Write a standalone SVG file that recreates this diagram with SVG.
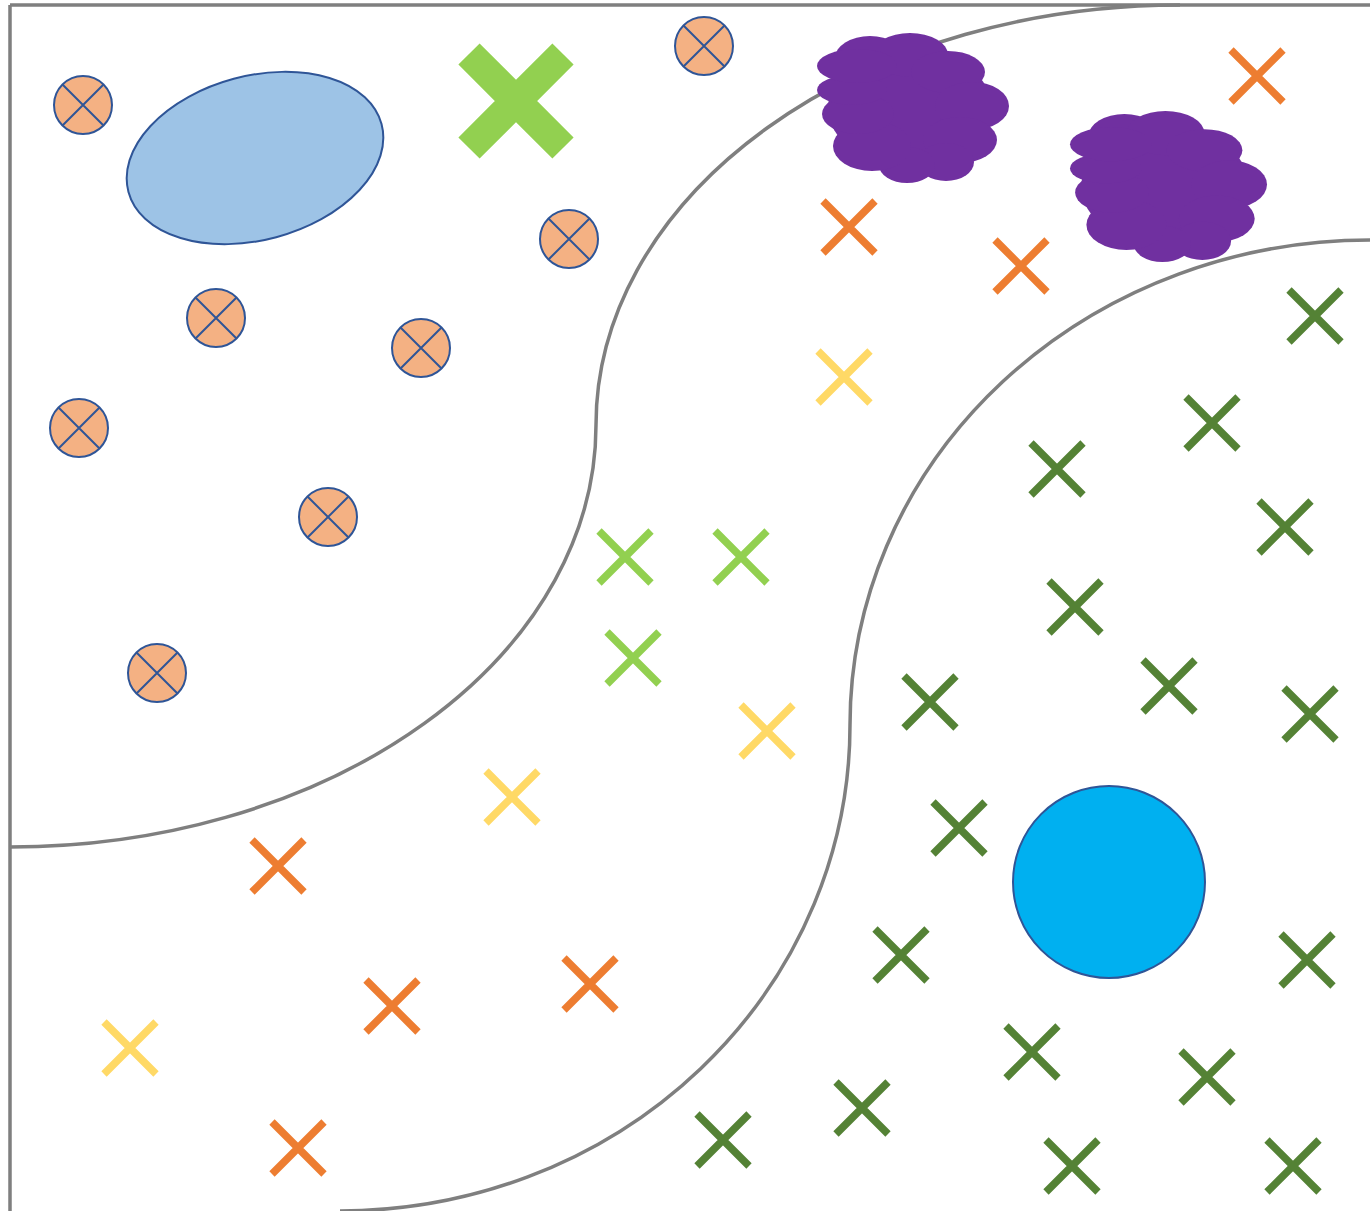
<svg xmlns="http://www.w3.org/2000/svg" width="1370" height="1211" viewBox="0 0 1370 1211">
<style>
.frame{fill:none;stroke:#7f7f7f;stroke-width:3.5}
.cxc{fill:#f4b183;stroke:#2f5597;stroke-width:2}
.cxp{stroke:#2f5597;stroke-width:2;fill:none}
.x{fill:none;stroke-width:7.5}
.or{stroke:#ed7d31}.ye{stroke:#ffd966}.lg{stroke:#92d050}.dg{stroke:#548235}
.cloud{fill:#7030a0}
</style>
<defs>
<g id="cxs"><circle class="cxc" r="29"/><path class="cxp" d="M-20.5,-20.5L20.5,20.5M20.5,-20.5L-20.5,20.5"/></g>
<path id="xm" d="M-26,-26L26,26M26,-26L-26,26"/>
<g id="cl" class="cloud">
<ellipse cx="910" cy="108" rx="82" ry="58"/>
<ellipse cx="870" cy="58" rx="35" ry="22"/>
<ellipse cx="910" cy="55" rx="38" ry="22"/>
<ellipse cx="948" cy="72" rx="37" ry="21"/>
<ellipse cx="972" cy="106" rx="37" ry="24"/>
<ellipse cx="960" cy="140" rx="37" ry="23"/>
<ellipse cx="946" cy="162" rx="28" ry="19"/>
<ellipse cx="907" cy="165" rx="28" ry="18"/>
<ellipse cx="872" cy="146" rx="39" ry="25"/>
<ellipse cx="858" cy="114" rx="36" ry="20"/>
<ellipse cx="852" cy="90" rx="35" ry="15"/>
<ellipse cx="857" cy="66" rx="40" ry="17"/>
</g>
</defs>
<g id="frame">
<path class="frame" d="M10,5H1370M10,5V1211"/>
</g>
<g id="connectors">
<path class="frame" d="M10,847A586,422 0 0 0 596,425A584,420 0 0 1 1180,5"/>
<path class="frame" d="M340,1211A510,486 0 0 0 850,725A520,485 0 0 1 1370,240"/>
</g>
<g id="ellipse"><ellipse cx="255" cy="158" rx="131" ry="82" transform="rotate(-15 255 158)" fill="#9dc3e6" stroke="#2f5597" stroke-width="2"/></g>
<g id="bigx"><path d="M469,54L563,148M563,54L469,148" stroke="#92d050" stroke-width="30" fill="none"/></g>
<g id="cloud1"><use href="#cl"/></g>
<g id="cloud2"><use href="#cl" transform="translate(1070,111) scale(1.026,1.007) translate(-817,-33)"/></g>
<g id="circlex">
<use href="#cxs" x="83" y="105"/><use href="#cxs" x="704" y="46"/><use href="#cxs" x="569" y="239"/>
<use href="#cxs" x="216" y="318"/><use href="#cxs" x="421" y="348"/><use href="#cxs" x="79" y="428"/>
<use href="#cxs" x="328" y="517"/><use href="#cxs" x="157" y="673"/>
</g>
<g id="orange" class="x or">
<use href="#xm" x="1257" y="76"/><use href="#xm" x="849" y="227"/><use href="#xm" x="1021" y="266"/>
<use href="#xm" x="278" y="866"/><use href="#xm" x="392" y="1006"/><use href="#xm" x="590" y="984"/>
<use href="#xm" x="298" y="1148"/>
</g>
<g id="yellow" class="x ye">
<use href="#xm" x="844" y="377"/><use href="#xm" x="767" y="731"/><use href="#xm" x="512" y="797"/><use href="#xm" x="130" y="1048"/>
</g>
<g id="lightgreen" class="x lg">
<use href="#xm" x="625" y="557"/><use href="#xm" x="741" y="557"/><use href="#xm" x="633" y="658"/>
</g>
<g id="darkgreen" class="x dg">
<use href="#xm" x="1315" y="316"/><use href="#xm" x="1212" y="423"/><use href="#xm" x="1057" y="469"/>
<use href="#xm" x="1285" y="527"/><use href="#xm" x="1075" y="607"/><use href="#xm" x="1169" y="686"/>
<use href="#xm" x="1310" y="714"/><use href="#xm" x="930" y="702"/><use href="#xm" x="959" y="828"/>
<use href="#xm" x="901" y="955"/><use href="#xm" x="1307" y="960"/><use href="#xm" x="1032" y="1052"/>
<use href="#xm" x="1207" y="1077"/><use href="#xm" x="862" y="1108"/><use href="#xm" x="723" y="1140"/>
<use href="#xm" x="1072" y="1166"/><use href="#xm" x="1293" y="1166"/>
</g>
<g id="bluecircle"><circle cx="1109" cy="882" r="96" fill="#00b0f0" stroke="#2f5597" stroke-width="2"/></g>
</svg>
